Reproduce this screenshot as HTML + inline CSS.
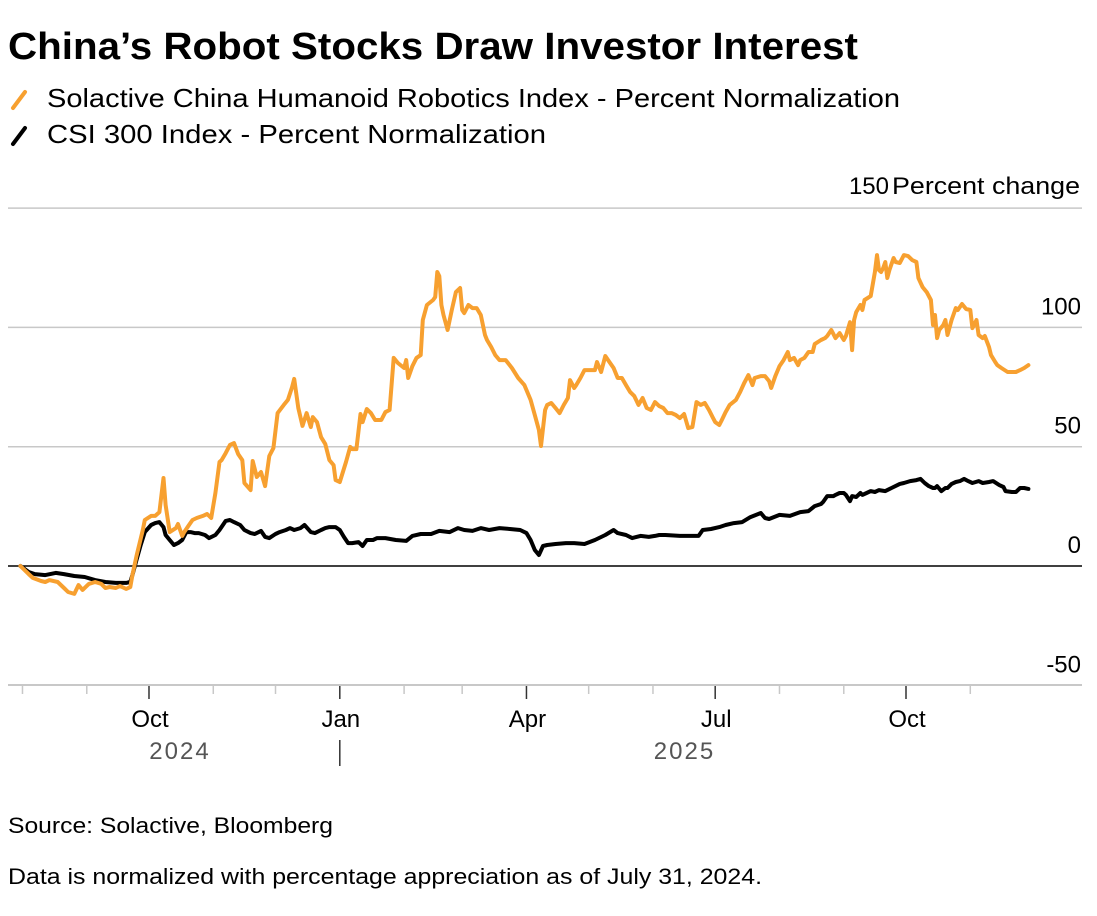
<!DOCTYPE html>
<html><head><meta charset="utf-8">
<style>
body{margin:0;background:#fff;width:1097px;height:916px;overflow:hidden;font-family:"Liberation Sans",sans-serif;}
svg{display:block}
</style></head>
<body>
<svg id="chart" width="1097" height="916" font-family="Liberation Sans, sans-serif">
<text x="8" y="59" font-size="38" font-weight="bold" fill="#000" textLength="850" lengthAdjust="spacingAndGlyphs">China’s Robot Stocks Draw Investor Interest</text>
<g>
<g>
<line x1="13" y1="108" x2="25" y2="92" stroke="#f7a030" stroke-width="4" stroke-linecap="round"/>
<text x="47" y="107" font-size="26" fill="#000" textLength="853" lengthAdjust="spacingAndGlyphs">Solactive China Humanoid Robotics Index - Percent Normalization</text>
</g>
<g>
<line x1="13" y1="144" x2="25" y2="128" stroke="#000" stroke-width="4" stroke-linecap="round"/>
<text x="47" y="143" font-size="26" fill="#000" textLength="499" lengthAdjust="spacingAndGlyphs">CSI 300 Index - Percent Normalization</text>
</g>
</g>
<g id="grid"></g>
<g id="yLabels"></g>
<g id="xAxis"></g>
<g id="series"></g>
<text x="8" y="833" font-size="22" fill="#000" textLength="325" lengthAdjust="spacingAndGlyphs">Source: Solactive, Bloomberg</text>
<text x="8" y="884" font-size="22" fill="#000" textLength="754" lengthAdjust="spacingAndGlyphs">Data is normalized with percentage appreciation as of July 31, 2024.</text>
</svg>
<script>
// Day offsets from 2024-07-31 and percent values
const orangeDays=[0,4,6,10,12,14,18,21,23,26,28,30,33,36,39,41,43,46,48,51,53,54,56,59,60,63,65,67,69,70,72,75,76,78,79,81,83,85,88,90,92,94,96,97,99,101,103,105,107,108,111,112,114,116,118,120,122,124,127,129,131,132,134,136,138,140,141,143,145,147,149,151,152,154,157,159,160,162,164,165,167,169,171,174,176,178,180,182,185,186,187,189,191,193,194,196,199,200,201,202,203,204,206,208,210,212,213,214,216,218,220,222,224,225,227,229,231,234,237,240,243,246,248,250,251,253,254,256,258,260,262,264,265,267,268,270,272,275,277,278,280,282,284,286,288,290,292,294,296,298,300,302,304,306,308,310,312,314,316,318,320,322,324,325,326,328,330,332,334,335,337,338,340,342,345,347,349,351,353,354,357,359,361,362,364,366,368,370,371,373,375,376,378,380,382,383,386,388,389,391,393,395,397,398,400,401,402,403,405,406,407,410,412,413,414,415,416,417,418,419,421,422,424,426,428,430,432,433,435,437,439,440,441,442,443,445,446,447,449,451,452,454,456,458,459,461,462,464,465,467,468,470,471,473,476,478,480,482,484,486];
const orangeValues=[0,-3.4,-5,-6.3,-6.7,-5.9,-6.7,-9.2,-10.9,-11.7,-8,-10,-7.5,-6.7,-7.5,-9.2,-8.8,-9.2,-8.4,-9.6,-8.8,-3.8,4.2,15.1,19.3,21,21,22.6,36.9,25.6,14.2,15.9,17.6,12.6,14.2,16.8,19.3,20.1,21,21.8,20.1,30.6,43.6,44.4,47.3,50.7,51.5,46.9,44.4,34.8,31.8,44,37.3,39.4,33.5,46.1,49.4,64.1,67.5,69.6,75,78.4,66.2,58.7,64.1,58.2,62.4,60.3,54,51.1,44.4,42.3,36,35.2,43.6,49.9,49,49,63.7,60.3,65.8,64.1,61.2,61.2,64.5,65.4,87.2,85.1,83,86.3,78.8,83.8,87.2,88.4,103.1,109.4,111.5,112.7,123.2,121.5,109.4,105.2,98.9,107.3,114.8,116.5,107.3,106,109.4,108.1,108.1,105.2,96.8,94.7,91.8,88.4,86.3,86.3,83,78.8,75.8,69.6,63.3,57,50.3,65.4,67.5,68.3,66.2,64.1,67.5,70.4,77.9,74.6,75.8,78.8,82.1,82.1,82.1,85.5,81.3,88,85.5,83,78.8,78.8,75.8,72.9,71.2,67.5,70.4,66.2,65.4,68.7,67,66.2,64.1,64.1,63.3,62,63.7,57.8,58.2,63.3,68.7,67.5,68.3,65.4,62,60.3,59.1,60.8,64.5,67.5,69.6,72.9,76.7,80,75.8,78.8,79.6,79.6,77.5,74.6,79.6,83.8,86.3,89.7,86.3,87.2,84.2,86.3,87.2,89.7,89.7,93,94.7,95.5,96.4,98.9,95.5,97.6,94.7,96.4,102.2,90.5,103.1,106.4,109.4,107.3,111.5,113.1,123.2,130.3,124,123.2,124.9,127.4,120.7,124,129.1,127.4,127,130.3,129.9,128.2,127.4,120.7,116.9,114.8,111.5,101,105.2,95.5,98.9,101,103.1,96.8,103.1,108.1,107.3,109.8,107.7,107.3,99.7,103.1,96.8,95.5,96.4,91.8,88.4,85.5,84.2,83,81.3,81.3,81.3,82.1,83,84.2];
const blackDays=[0,4,7,12,17,21,26,31,36,41,46,51,53,54,56,58,60,63,65,67,69,70,72,74,76,78,80,82,84,86,89,91,94,96,99,101,103,106,108,111,113,116,118,120,123,125,128,130,132,135,137,140,142,145,147,149,152,154,156,158,160,163,165,167,170,172,176,181,186,189,193,198,202,207,211,214,218,222,226,231,236,241,244,246,248,250,252,254,258,263,267,272,277,282,286,288,292,295,299,303,306,308,311,318,323,327,329,333,337,340,344,348,352,357,359,361,366,371,376,380,383,386,387,389,390,392,393,395,397,398,400,401,403,405,406,408,410,412,414,417,420,424,426,429,432,434,436,438,440,441,442,444,446,447,449,451,453,455,457,459,462,464,467,469,472,474,475,478,480,482,484,486];
const blackValues=[0,-2.5,-3.4,-3.8,-2.9,-3.4,-4.2,-4.6,-5.9,-6.7,-7.1,-7.1,-6.7,-3.8,2.5,8.8,14.2,17.2,18,18.4,16.3,13,10.9,8.8,9.6,10.9,14.2,14.2,13.8,13.8,13,11.7,13,15.1,18.9,19.3,18.4,17.2,15.1,13.8,13.4,14.7,12.2,11.7,13.4,14.2,15.1,15.9,15.1,15.9,17.2,14.2,13.8,15.1,15.9,16.3,16.3,15.1,12.2,9.6,9.6,10,8.4,10.9,10.9,11.7,11.7,10.9,10.5,12.6,13.4,13.4,14.7,14.2,15.9,15.1,14.7,15.9,15.1,15.9,15.5,15.1,13.8,10.9,6.7,4.6,8.4,8.8,9.2,9.6,9.6,9.2,10.9,13,15.1,13.8,13,11.7,12.6,12.2,12.6,13,13,12.6,12.6,12.6,15.1,15.5,16.3,17.2,18,18.4,20.5,22.2,20.1,19.7,21.4,21,22.6,23,25.1,26,26.8,29.3,29.3,29.3,29.8,30.6,30.6,29.8,27.2,29.3,28.9,30.6,29.8,30.6,31.4,31,31.8,31.4,32.7,34.4,34.8,35.6,36,36.5,34.8,33.5,32.7,32.7,33.5,31.4,32.7,32.7,34.4,35.2,35.6,36.5,35.6,34.8,35.6,34.8,35.2,35.6,33.9,33.1,31.4,31,31,32.7,32.7,32.3];
const yTicks=[150,100,50,0,-50];
const yTickLabels=["150","100","50","0","-50"];
// month tick day offsets (first of each month) and labels
const monthDays=[1,32,62,93,123,154,185,213,244,274,305,335,366,397,427,458];
const monthLabels=["","","Oct","","","Jan","","","Apr","","","Jul","","","Oct",""];
const yearLabels=["2024","2025"];

const NS="http://www.w3.org/2000/svg";
const X0=20.4, PXD=2.074, Y0=566, PXV=2.386;
const x=d=>X0+d*PXD;
const y=v=>Y0-v*PXV;
function mk(tag,attrs,parent){const e=document.createElementNS(NS,tag);for(const k in attrs)e.setAttribute(k,attrs[k]);parent.appendChild(e);return e;}
const grid=document.getElementById('grid'),yl=document.getElementById('yLabels'),xa=document.getElementById('xAxis'),ser=document.getElementById('series');
yTicks.forEach((t,i)=>{
  if(t!==-50){
    const g=mk('line',{x1:8,x2:1082,y1:y(t),y2:y(t),stroke:t===0?'#000':'#c8c8c8','stroke-width':1.5},grid);
    
    
  }
  const first=(i===0);
  const lb=mk('text',{x:first?889:1081,y:first?194:y(t)-13,'text-anchor':'end','font-size':24,fill:'#000'},yl);
  lb.textContent=yTickLabels[i];
  
  
});
const unit=mk('text',{x:892,y:194,'font-size':24,fill:'#000',textLength:188,lengthAdjust:'spacingAndGlyphs'},yl);
unit.textContent="Percent change";


const ax=mk('line',{x1:8,x2:1082,y1:685,y2:685,stroke:'#c8c8c8','stroke-width':2},xa);


monthDays.forEach((d,i)=>{
  const major=monthLabels[i]!=="";
  const tk=mk('line',{x1:x(d),x2:x(d),y1:686,y2:major?699:694,stroke:major?'#333':'#c8c8c8','stroke-width':1.5},xa);
  
  
  if(major){
    const t=mk('text',{x:x(d)+1,y:727,'text-anchor':'middle','font-size':24,fill:'#000'},xa);
    t.textContent=monthLabels[i];
    
    
  }
});
const yrPos=[x(62)+31,x(366)-95];
yearLabels.forEach((s,i)=>{
  const t=mk('text',{x:yrPos[i],y:759,'text-anchor':'middle','font-size':24,fill:'#555','letter-spacing':'2'},xa);
  t.textContent=s;
  
  
});
const sep=mk('line',{x1:x(154),x2:x(154),y1:740,y2:766,stroke:'#333','stroke-width':1.5},xa);


function series(days,vals,color,name){
  const p=days.map((d,i)=>(i?'L':'M')+x(d).toFixed(1)+','+y(vals[i]).toFixed(1)).join(' ');
  const e=mk('path',{d:p,fill:'none',stroke:color,'stroke-width':4,'stroke-linejoin':'round','stroke-linecap':'round'},ser);
  
  
}
series(blackDays,blackValues,'#000','csi300-line');
series(orangeDays,orangeValues,'#f7a030','solactive-line');
</script>
</body></html>
